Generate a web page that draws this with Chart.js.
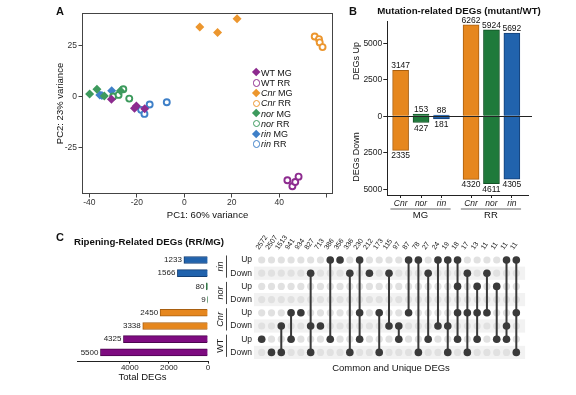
<!DOCTYPE html>
<html>
<head>
<meta charset="utf-8">
<title>DEG figure</title>
<script src="https://cdn.jsdelivr.net/npm/chart.js@4.4.1/dist/chart.umd.min.js"></script>
<style>
  body { margin: 0; background: #fff; }
  #fig { position: relative; width: 576px; height: 395px; overflow: hidden;
         font-family: 'Liberation Sans', Arial, sans-serif; color: #111; }
  #fig canvas { position: absolute; }
  .t { position: absolute; white-space: nowrap; line-height: 1; transform: translate(-50%, -50%); }
  .tag { font-weight: bold; font-size: 11px; }
  .head { font-weight: bold; font-size: 9.7px; }
  .rot { transform: translate(-50%, -50%) rotate(-90deg); }
  .leg { position: absolute; left: 251px; height: 10px; line-height: 10px; font-size: 9px; white-space: nowrap; }
  .mk { position: absolute; box-sizing: border-box; }
</style>
</head>
<body>
<div id="fig">
  <canvas id="pca" width="345" height="221" style="left:0;top:0"></canvas>
  <canvas id="mut" width="231" height="222" style="left:345px;top:0"></canvas>
  <canvas id="ripe" width="260" height="170" style="left:0;top:225px"></canvas>
  <canvas id="upset" width="331" height="170" style="left:245px;top:225px"></canvas>

  <div class="t tag" style="left:60px;top:11px">A</div>
  <div class="t tag" style="left:353px;top:11px">B</div>
  <div class="t tag" style="left:60px;top:237px">C</div>
  <div class="t head" style="left:459px;top:11px">Mutation-related DEGs (mutant/WT)</div>
  <div class="t head" style="left:149px;top:242px">Ripening-Related DEGs (RR/MG)</div>
  <div class="t rot" style="left:356px;top:61px;font-size:9px">DEGs Up</div>
  <div class="t rot" style="left:356px;top:157px;font-size:9px">DEGs Down</div>
  <div class="t" style="left:391px;top:368px;font-size:9.5px">Common and Unique DEGs</div>
</div>
<script>
const FAM = "'Liberation Sans', Arial, sans-serif"
Chart.defaults.font.family = FAM
Chart.defaults.color = '#222'
Chart.defaults.animation = false
Chart.defaults.plugins.legend.display = false
Chart.defaults.plugins.tooltip.enabled = false

// ---- A: PCA scores (PC1, PC2) ----
const wtMG  = [[-30.7, -1.3], [-21.0, -5.7], [-20.2, -4.6], [-16.7, -6.0]]
const wtRR  = [[43.4, -41.0], [45.5, -43.9], [46.7, -41.8], [48.1, -39.2]]
const cnrMG = [[6.5, 34.0], [14.0, 31.4], [22.2, 38.1]]
const cnrRR = [[54.9, 29.4], [56.7, 28.1], [57.0, 26.5], [58.2, 24.2]]
const norMG = [[-39.9, 1.3], [-36.8, 3.6], [-33.7, 0.3], [-26.9, 2.8]]
const norRR = [[-30.0, 0.0], [-27.7, 0.8], [-25.7, 3.6], [-23.2, -1.0]]
const rinMG = [[-35.6, 0.8], [-34.7, 0.5], [-30.6, 2.8]]
const rinRR = [[-18.2, -6.5], [-16.8, -8.5], [-14.6, -3.9], [-7.4, -2.8]]
const pc1Ticks = [-40, -20, 0, 20, 40, 60]
const pc2Ticks = [-25, 0, 25]

// ---- B: mutant vs WT ----
const mutantCats = ['Cnr', 'nor', 'rin', 'Cnr', 'nor', 'rin']
const mutantStage = ['MG', 'MG', 'MG', 'RR', 'RR', 'RR']
const mutUp = [3147, 153, 88, 6262, 5924, 5692]
const mutDown = [2335, 427, 181, 4320, 4611, 4305]
const mutTicks = [-5000, -2500, 0, 2500, 5000]

// ---- C: RR vs MG ----
const ripeRows = ['rin Up', 'rin Down', 'nor Up', 'nor Down', 'Cnr Up', 'Cnr Down', 'WT Up', 'WT Down']
const ripeTotals = [1233, 1566, 80, 9, 2450, 3338, 4325, 5500]
const totalTicks = [0, 2000, 4000]
const upsetSizes = [2572, 2507, 1513, 941, 934, 827, 713, 386, 356, 336, 230, 212, 173, 115,
  97, 87, 78, 27, 24, 19, 18, 17, 13, 11, 11, 11, 11]
const upsetSets = [
  ['WT Up'], ['WT Down'], ['Cnr Down', 'WT Down'], ['Cnr Up', 'WT Up'], ['Cnr Up'],
  ['rin Down', 'Cnr Down', 'WT Down'], ['Cnr Down'], ['rin Up', 'WT Up'], ['rin Up'],
  ['rin Down', 'WT Down'], ['rin Up', 'Cnr Up', 'WT Up'], ['rin Down'], ['Cnr Up', 'WT Down'],
  ['rin Down', 'Cnr Down'], ['Cnr Down', 'WT Up'], ['rin Up', 'Cnr Up'], ['rin Up', 'WT Down'],
  ['rin Down', 'WT Up'], ['rin Up', 'Cnr Down'], ['rin Up', 'Cnr Down', 'WT Down'],
  ['rin Up', 'nor Up', 'Cnr Up', 'WT Up'], ['rin Down', 'Cnr Up', 'WT Down'],
  ['nor Up', 'Cnr Up', 'WT Up'], ['rin Down', 'Cnr Up'], ['nor Up', 'WT Up'],
  ['rin Up', 'Cnr Down', 'WT Up'], ['rin Up', 'Cnr Up', 'WT Down'],
]

const pcaColor = { WT: '#8d2b8f', Cnr: '#ec962e', nor: '#3d9a5d', rin: '#3f80c8' }
const barFill = { WT: '#7e0b80', Cnr: '#e6871e', nor: '#1f7a3b', rin: '#2163ad' }
const barEdge = { WT: '#4d054f', Cnr: '#a85f10', nor: '#125226', rin: '#143f75' }

const setTicks = vals => s => { s.ticks = vals.map(v => ({ value: v })) }

// ---------- A ----------
const pcaSeries = [
  ['WT', 'MG', wtMG, false], ['WT', 'RR', wtRR, true],
  ['Cnr', 'MG', cnrMG, false], ['Cnr', 'RR', cnrRR, true],
  ['nor', 'MG', norMG, false], ['nor', 'RR', norRR, true],
  ['rin', 'MG', rinMG, false], ['rin', 'RR', rinRR, true],
]

const frame = {
  id: 'frame',
  afterDraw(chart) {
    const { ctx, chartArea: a } = chart
    ctx.save()
    ctx.strokeStyle = '#444'
    ctx.lineWidth = 1
    ctx.strokeRect(a.left + 0.5, a.top + 0.5, a.right - a.left - 1, a.bottom - a.top - 1)
    ctx.restore()
  },
}

new Chart(document.getElementById('pca'), {
  type: 'scatter',
  data: {
    datasets: pcaSeries.map(([g, st, pts, open]) => ({
      label: g + ' ' + st,
      data: pts.map(([x, y]) => ({ x, y })),
      pointStyle: open ? 'circle' : 'rectRot',
      pointRadius: open ? 3 : 4.5,
      pointBorderWidth: open ? 1.9 : 0,
      pointBorderColor: pcaColor[g],
      pointBackgroundColor: open ? '#fff' : pcaColor[g],
    })),
  },
  options: {
    responsive: false,
    layout: { padding: { left: 55, top: 13, right: 12, bottom: 0 } },
    scales: {
      x: {
        min: -43.1, max: 62.6,
        afterBuildTicks: setTicks(pc1Ticks),
        afterFit: s => { s.height = 27 },
        grid: { drawOnChartArea: false, tickLength: 3.5, color: '#444' },
        border: { display: false },
        ticks: { font: { size: 8.5 }, padding: 0, color: '#333', callback: v => (v === 60 ? '' : v) },
        title: { display: true, text: 'PC1: 60% variance', font: { size: 9.5 }, padding: 0, color: '#111' },
      },
      y: {
        min: -47.7, max: 40.9,
        afterBuildTicks: setTicks(pc2Ticks),
        afterFit: s => { s.width = 27 },
        grid: { drawOnChartArea: false, tickLength: 3.5, color: '#444' },
        border: { display: false },
        ticks: { font: { size: 8.5 }, padding: 1.5, color: '#333' },
        title: { display: true, text: 'PC2: 23% variance', font: { size: 9.5 }, padding: 0, color: '#111' },
      },
    },
  },
  plugins: [frame],
})

// legend for A
pcaSeries.forEach(([g, st, , open], i) => {
  const cy = 72.7 + i * 10.2
  const row = document.createElement('div')
  row.className = 'leg'
  row.style.top = (cy - 5) + 'px'
  row.style.paddingLeft = '10px'
  row.innerHTML = (g === 'WT' ? g : '<i>' + g + '</i>') + ' ' + st
  const mk = document.createElement('span')
  mk.className = 'mk'
  if (open) {
    Object.assign(mk.style, { left: '1.5px', top: '1.3px', width: '7.4px', height: '7.4px',
      border: '1.9px solid ' + pcaColor[g], borderRadius: '50%', background: '#fff' })
  } else {
    Object.assign(mk.style, { left: '2px', top: '1.8px', width: '6.4px', height: '6.4px',
      background: pcaColor[g], transform: 'rotate(45deg)' })
  }
  row.appendChild(mk)
  document.getElementById('fig').appendChild(row)
})

// ---------- B ----------
const bPos = mutantCats.map((c, i) => i + 1 + (mutantStage[i] === 'RR' ? 0.45 : 0))

const mutLabels = {
  id: 'mutLabels',
  afterDatasetsDraw(chart) {
    const { ctx, chartArea: a, scales } = chart
    const y0 = scales.y.getPixelForValue(0)
    ctx.save()
    ctx.strokeStyle = '#222'
    ctx.lineWidth = 1
    ctx.beginPath()
    ctx.moveTo(a.left, Math.round(y0) + 0.5)
    ctx.lineTo(a.right + 4, Math.round(y0) + 0.5)
    ctx.stroke()

    ctx.font = '8.5px ' + FAM
    ctx.fillStyle = '#111'
    ctx.textAlign = 'center'
    chart.getDatasetMeta(0).data.forEach((b, i) => {
      ctx.textBaseline = 'bottom'
      ctx.fillText(mutUp[i], b.x, b.y)
    })
    chart.getDatasetMeta(1).data.forEach((b, i) => {
      ctx.textBaseline = 'top'
      ctx.fillText(mutDown[i], b.x, b.y + 1.5)
    })

    // stage brackets
    const yb = a.bottom + 14
    ctx.strokeStyle = '#9a9a9a'
    ctx.lineWidth = 1.6
    ctx.font = '9.5px ' + FAM
    ctx.textBaseline = 'top'
    ;['MG', 'RR'].forEach(st => {
      const idx = mutantStage.map((s, i) => (s === st ? i : -1)).filter(i => i >= 0)
      const x1 = scales.x.getPixelForValue(bPos[idx[0]] - 0.5)
      const x2 = scales.x.getPixelForValue(bPos[idx[idx.length - 1]] + 0.45)
      ctx.beginPath()
      ctx.moveTo(x1, yb)
      ctx.lineTo(x2, yb)
      ctx.stroke()
      ctx.fillText(st, (x1 + x2) / 2, yb + 2)
    })
    ctx.restore()
  },
}

new Chart(document.getElementById('mut'), {
  type: 'bar',
  data: {
    datasets: [
      { label: 'Up', data: bPos.map((x, i) => ({ x, y: mutUp[i] })) },
      { label: 'Down', data: bPos.map((x, i) => ({ x, y: -mutDown[i] })) },
    ].map(d => Object.assign(d, {
      backgroundColor: mutantCats.map(c => barFill[c]),
      borderColor: mutantCats.map(c => barEdge[c]),
      borderWidth: 1,
      barThickness: 16,
    })),
  },
  options: {
    responsive: false,
    layout: { padding: { left: 0, right: 48, top: 21.7, bottom: 15 } },
    scales: {
      x: {
        type: 'linear', stacked: true, offset: false,
        min: 0.348, max: 7.24,
        afterBuildTicks: setTicks(bPos),
        afterFit: s => { s.height = 12 },
        grid: { drawOnChartArea: false, offset: false, tickLength: 3, color: '#222' },
        border: { color: '#222' },
        ticks: { font: { size: 8.5, style: 'italic' }, padding: 0.5, color: '#222',
          callback: (v, i) => mutantCats[i] },
      },
      y: {
        stacked: true,
        min: -5390, max: 6480,
        afterBuildTicks: setTicks(mutTicks),
        afterFit: s => { s.width = 42.3 },
        grid: { drawOnChartArea: false, tickLength: 4, color: '#222' },
        border: { color: '#222' },
        ticks: { font: { size: 8.5 }, padding: 1, color: '#222', callback: v => String(Math.abs(v)) },
      },
    },
  },
  plugins: [mutLabels],
})

// ---------- C: totals ----------
const ripeSide = {
  id: 'ripeSide',
  afterDraw(chart) {
    const { ctx, scales } = chart
    ctx.save()
    ctx.fillStyle = '#222'
    ctx.font = '8px ' + FAM
    ctx.textAlign = 'right'
    ctx.textBaseline = 'middle'
    chart.getDatasetMeta(0).data.forEach((b, i) => ctx.fillText(ripeTotals[i], b.x - 2, b.y))

    ctx.font = '8.5px ' + FAM
    ripeRows.forEach((r, i) => ctx.fillText(r.split(' ')[1], 252, scales.y.getPixelForValue(i + 1)))

    ctx.strokeStyle = '#444'
    ctx.lineWidth = 1
    for (let k = 0; k < ripeRows.length; k += 2) {
      const g = ripeRows[k].split(' ')[0]
      const yt = scales.y.getPixelForValue(k + 1)
      const yb = scales.y.getPixelForValue(k + 2)
      ctx.beginPath()
      ctx.moveTo(226.5, yt - 4.5)
      ctx.lineTo(226.5, yb + 4.5)
      ctx.stroke()
      ctx.save()
      ctx.translate(220.5, (yt + yb) / 2)
      ctx.rotate(-Math.PI / 2)
      ctx.textAlign = 'center'
      ctx.font = (g === 'WT' ? '' : 'italic ') + '9px ' + FAM
      ctx.fillText(g, 0, 0)
      ctx.restore()
    }
    ctx.restore()
  },
}

new Chart(document.getElementById('ripe'), {
  type: 'bar',
  data: {
    datasets: [{
      data: ripeTotals.map((v, i) => ({ x: v, y: i + 1 })),
      backgroundColor: ripeRows.map(r => barFill[r.split(' ')[0]]),
      borderColor: ripeRows.map(r => barEdge[r.split(' ')[0]]),
      borderWidth: 1,
      barThickness: 7,
    }],
  },
  options: {
    indexAxis: 'y',
    responsive: false,
    layout: { padding: { left: 77, right: 52, top: 28.4, bottom: 12 } },
    scales: {
      y: { type: 'linear', min: 0.5, max: 8.7, reverse: true, display: false, offset: false },
      x: {
        min: 0, max: 6700, reverse: true,
        afterBuildTicks: setTicks(totalTicks),
        afterFit: s => { s.height = 21.4 },
        grid: { drawOnChartArea: false, tickLength: 2, color: '#222' },
        border: { color: '#222' },
        ticks: { font: { size: 8 }, padding: -1, color: '#222', callback: v => String(v) },
        title: { display: true, text: 'Total DEGs', font: { size: 9.5 }, padding: 0, color: '#111' },
      },
    },
  },
  plugins: [ripeSide],
})

// ---------- C: intersections ----------
const cells = []
upsetSizes.forEach((s, c) => ripeRows.forEach((r, i) => cells.push({ x: c + 1, y: i + 1 })))
const active = []
const links = []
upsetSets.forEach((set, c) => {
  const rows = set.map(r => ripeRows.indexOf(r) + 1)
  rows.forEach(y => active.push({ x: c + 1, y }))
  if (rows.length > 1) {
    links.push({
      data: [{ x: c + 1, y: Math.min(...rows) }, { x: c + 1, y: Math.max(...rows) }],
      showLine: true, borderColor: '#3a3a3a', borderWidth: 2, pointRadius: 0, order: 1,
    })
  }
})

const stripes = {
  id: 'stripes',
  beforeDatasetsDraw(chart) {
    const { ctx, scales } = chart
    ctx.save()
    ctx.fillStyle = '#f2f2f2'
    const x0 = scales.x.getPixelForValue(0.21)
    const x1 = scales.x.getPixelForValue(27.9)
    for (let r = 2; r <= ripeRows.length; r += 2) {
      const y0 = scales.y.getPixelForValue(r - 0.5)
      const y1 = scales.y.getPixelForValue(r + 0.5)
      ctx.fillRect(x0, y0, x1 - x0, y1 - y0)
    }
    ctx.restore()
  },
}

new Chart(document.getElementById('upset'), {
  type: 'scatter',
  data: {
    datasets: [
      { data: active, pointRadius: 3.8, pointBackgroundColor: '#3a3a3a', pointBorderWidth: 0, order: 0 },
      ...links,
      { data: cells, pointRadius: 3.6, pointBackgroundColor: '#e1e1e1', pointBorderWidth: 0, order: 2 },
    ],
  },
  options: {
    responsive: false,
    layout: { padding: { left: 11.8, right: 54.8, top: 0, bottom: 36 } },
    scales: {
      x: {
        position: 'top',
        min: 0.5, max: upsetSizes.length + 0.5,
        afterBuildTicks: setTicks(upsetSizes.map((s, i) => i + 1)),
        afterFit: s => { s.height = 28.4 },
        grid: { display: false, drawTicks: false },
        border: { display: false },
        ticks: { autoSkip: false, minRotation: 55, maxRotation: 55, padding: 2, labelOffset: 2.5,
          font: { size: 7 }, color: '#222', callback: (v, i) => String(upsetSizes[i]) },
      },
      y: { min: 0.5, max: ripeRows.length + 0.5, reverse: true, display: false },
    },
  },
  plugins: [stripes],
})
</script>
</body>
</html>
